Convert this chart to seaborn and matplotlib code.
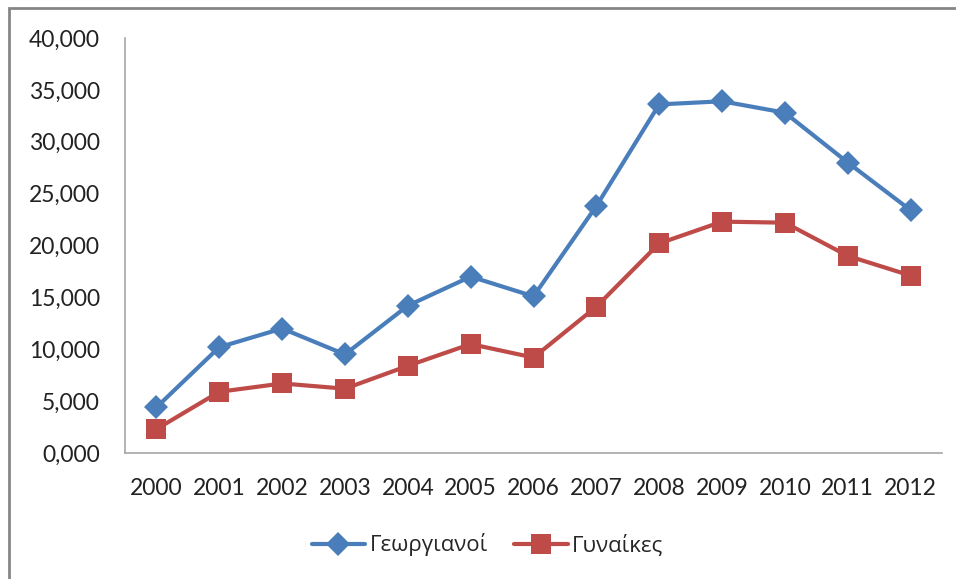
import pandas as pd
import seaborn as sns
import matplotlib.pyplot as plt
from matplotlib.patches import Rectangle

years = ['2000', '2001', '2002', '2003', '2004', '2005', '2006',
         '2007', '2008', '2009', '2010', '2011', '2012']
georgianoi = [4400, 10200, 12000, 9500, 14200, 17000, 15100,
              23800, 33600, 33900, 32800, 28000, 23400]
gynaikes = [2300, 5900, 6700, 6200, 8400, 10500, 9200,
            14100, 20200, 22300, 22200, 19000, 17100]
yticks = [0, 5000, 10000, 15000, 20000, 25000, 30000, 35000, 40000]
ytick_labels = ['0,000', '5,000', '10,000', '15,000', '20,000',
                '25,000', '30,000', '35,000', '40,000']

BLUE = '#4A7EBB'
RED = '#BE4B48'


def run():
    df = pd.DataFrame({'pos': range(len(years)), 'year': years,
                       'Γεωργιανοί': georgianoi, 'Γυναίκες': gynaikes})

    sns.set_style('white')
    plt.rcParams['font.family'] = ['Lato', 'DejaVu Sans']

    fig = plt.figure(figsize=(9.56, 5.79), dpi=100)
    ax = fig.add_axes([125 / 956, 1 - 453 / 579, 817 / 956, 415 / 579])

    sns.lineplot(data=df, x='pos', y='Γεωργιανοί', ax=ax, color=BLUE,
                 marker='D', markersize=12, markeredgewidth=0, linewidth=3,
                 label='Γεωργιανοί')
    sns.lineplot(data=df, x='pos', y='Γυναίκες', ax=ax, color=RED,
                 marker='s', markersize=14, markeredgewidth=0, linewidth=3,
                 label='Γυναίκες')

    ax.set_xlim(-0.5, len(years) - 0.5)
    ax.set_ylim(0, 40000)
    ax.set_xticks(df['pos'])
    ax.set_xticklabels(years)
    ax.set_yticks(yticks)
    ax.set_yticklabels(ytick_labels)
    ax.tick_params(axis='both', length=0, labelsize=16.5, colors='#222222')
    ax.tick_params(axis='y', pad=18)
    ax.tick_params(axis='x', pad=18)
    ax.set_xlabel('')
    ax.set_ylabel('')
    for s in ['top', 'right']:
        ax.spines[s].set_visible(False)
    for s in ['left', 'bottom']:
        ax.spines[s].set_color('#A6A6A6')
        ax.spines[s].set_linewidth(1.2)

    ax.get_legend().remove()
    handles, labels = ax.get_legend_handles_labels()
    fig.legend(handles, labels, loc='center', bbox_to_anchor=(0.51, 1 - 545 / 579),
               ncol=2, frameon=False, handlelength=2.4,
               columnspacing=1.2, handletextpad=0.2,
               prop={'family': ['Open Sans', 'DejaVu Sans'], 'size': 16})

    # outer chart border (only top and left visible in the crop)
    fig.patches.append(Rectangle((9 / 956, -0.1), 1.2, 1 - 8 / 579 + 0.1,
                                 transform=fig.transFigure, fill=False,
                                 edgecolor='#868686', linewidth=2))

    fig.savefig('out.png', dpi=100)


if __name__ == '__main__':
    run()
